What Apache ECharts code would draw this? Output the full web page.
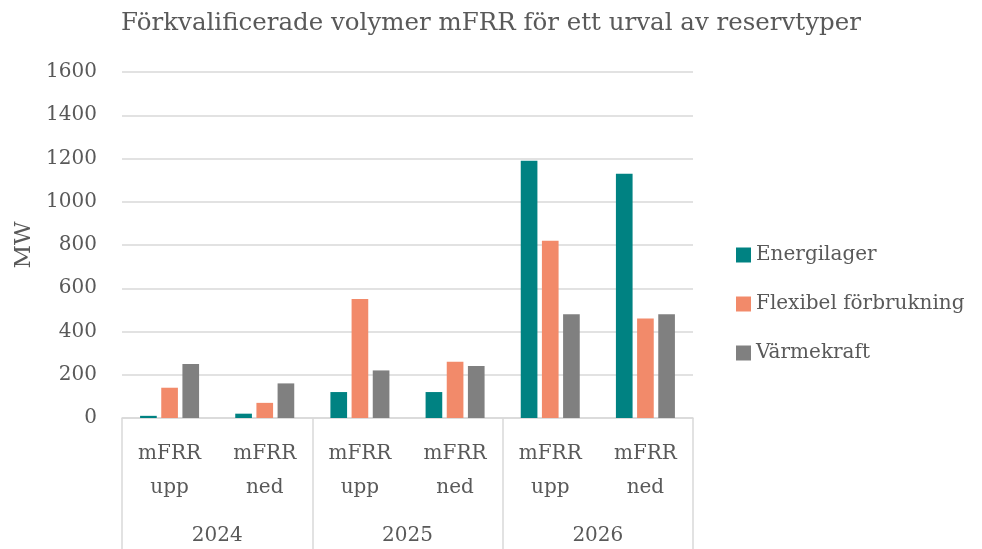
<!DOCTYPE html>
<html><head><meta charset="utf-8">
<script src="https://cdn.jsdelivr.net/npm/echarts@6/dist/echarts.min.js"></script>
<style>html,body{margin:0;padding:0;background:#fff}#c{width:982px;height:549px}</style>
</head><body><div id="c"></div>
<script>
const title = 'Förkvalificerade volymer mFRR för ett urval av reservtyper';
const subCategories = ['mFRR\nupp','mFRR\nned','mFRR\nupp','mFRR\nned','mFRR\nupp','mFRR\nned'];
const years = ['2024','2025','2026'];
const seriesNames = ['Energilager','Flexibel förbrukning','Värmekraft'];
const energilager = [10, 20, 120, 120, 1190, 1130];
const flexibel = [140, 70, 550, 260, 820, 460];
const varmekraft = [250, 160, 220, 240, 480, 480];
const yTicks = [0, 1600, 200];
const colors = ['#008282', '#F28A6A', '#808080'];
const font = '"DejaVu Serif", serif';
const txt = '#595959';

const chart = echarts.init(document.getElementById('c'));
const values = [energilager, flexibel, varmekraft];
chart.setOption({
  animation: false,
  color: colors,
  textStyle: {fontFamily: font, color: txt},
  title: {text: title, left: 'center', top: 6,
    textStyle: {fontFamily: font, fontSize: 24.5, fontWeight: 'normal', color: txt}},
  legend: {orient: 'vertical', left: 731, top: 240, itemWidth: 15, itemHeight: 15, itemGap: 29,
    icon: 'rect', textStyle: {fontFamily: font, fontSize: 20, color: txt}, data: seriesNames},
  grid: {left: 122, right: 289, top: 72, bottom: 131, containLabel: false},
  xAxis: [
    {type: 'category', data: subCategories, position: 'bottom',
      axisLine: {show: true, lineStyle: {color: '#d9d9d9', width: 1.5}},
      axisTick: {show: false},
      axisLabel: {fontFamily: font, fontSize: 20, color: txt, margin: 19, lineHeight: 34, interval: 0}},
    {type: 'category', data: years, position: 'bottom',
      axisLine: {show: false},
      axisTick: {show: true, length: 132, interval: 0, lineStyle: {color: '#d9d9d9', width: 1.5}},
      axisLabel: {fontFamily: font, fontSize: 20, color: txt, margin: 108, interval: 0}}
  ],
  yAxis: {type: 'value', min: yTicks[0], max: yTicks[1], interval: yTicks[2],
    name: 'MW', nameLocation: 'middle', nameGap: 82, nameRotate: 90,
    nameTextStyle: {fontFamily: font, fontSize: 23, color: txt},
    axisLine: {show: false}, axisTick: {show: false},
    axisLabel: {fontFamily: font, fontSize: 20, color: txt, margin: 25, formatter: v => String(v)},
    splitLine: {lineStyle: {color: '#d9d9d9', width: 1.5}}},
  series: seriesNames.map((n, i) => ({
    name: n, type: 'bar', xAxisIndex: 0, data: values[i],
    barGap: '27%', barCategoryGap: '38%'
  }))
});
</script></body></html>
